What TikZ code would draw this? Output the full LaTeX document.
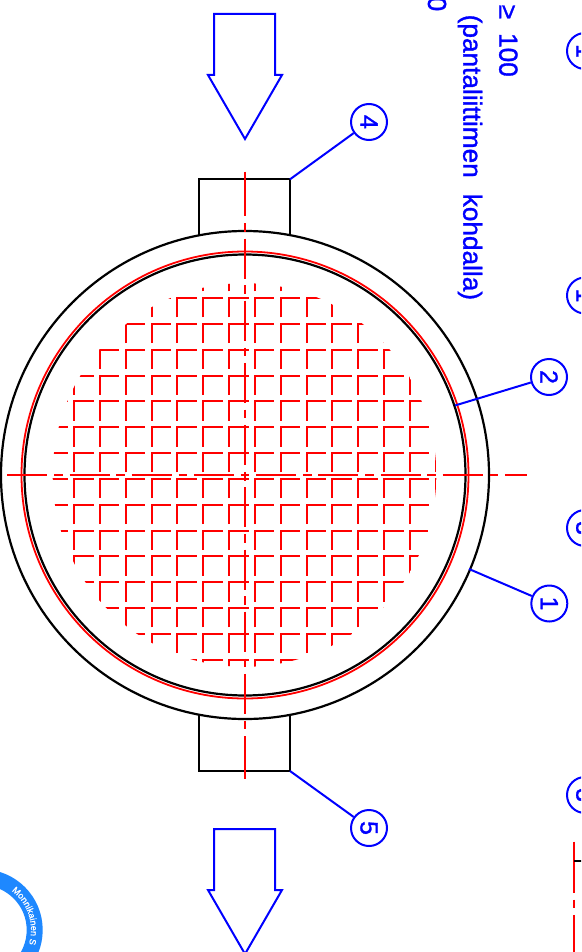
\documentclass[tikz,border=0pt]{standalone}
\usepackage{fontspec}
\setmainfont{Liberation Sans}[BoldFont=Liberation Sans,BoldFeatures={FakeBold=1.2}]
\usetikzlibrary{decorations.text}
\definecolor{stampblue}{HTML}{1E88FF}
\tikzset{
  blackline/.style={black,line width=2.2pt},
  redline/.style={red,line width=1.8pt},
  gridline/.style={red,line width=2pt},
  axisline/.style={red,line width=1.8pt,dash pattern=on 40pt off 6.8pt on 8.6pt off 6.8pt},
  blueline/.style={blue,line width=2pt},
  balloon/.style={circle,draw=blue,line width=2pt,minimum size=36pt,inner sep=0pt,text=blue,rotate=-90,font=\fontsize{25}{25}\selectfont\bfseries},
  bluetext/.style={text=blue,inner sep=0pt,rotate=-90,font=\fontsize{26.2}{26}\selectfont\bfseries},
}
\begin{document}
\begin{tikzpicture}[x=1pt,y=-1pt]
	\clip (0,0) rectangle (581,952);
	\fill[white] (0,0) rectangle (581,952);
	\begin{scope}%tube grid
		\clip (244.5,475) circle (191.8pt);
		\foreach \i in {-2,...,15} \foreach \j in {-1,...,15}
			\draw[gridline] ({74+25.84*\i},{317.3+25.84*\j}) -- ++(0,-19.3) -- ++(19.5,0);
	\end{scope}
	\draw[redline] (245,475) circle (223.5pt);%red circle
	\draw[blackline] (245,475) circle (220.5pt) (245,475) circle (244pt);%shell
	\draw[blackline] (199,235.4) -- (199,179.3) -- (290,179.3) -- (290,235.4);%top nozzle
	\draw[blackline] (199,714.6) -- (199,771) -- (290,771) -- (290,714.6);%bottom nozzle
	\draw[axisline] (7.3,475.3) -- (527,475.3);%centre lines
	\draw[axisline] (245,176.3) -- (245,774.3);
	\draw[redline] (245,171.7) -- (245,176.3) (245,774.3) -- (245,779.3);
	\foreach \yy in {14,829}%flow arrows
		\draw[blueline,yshift=-\yy pt] (214,0) -- (275,0) -- (275,61) -- (282,61) -- (245,125) -- (208,61) -- (214,61) -- cycle;
	\node[balloon] (c4) at (369,122) {4};
	\node[balloon] (c5) at (369,828) {5};
	\node[balloon] (c2) at (549,377) {2};
	\node[balloon] (c1) at (549.3,603.5) {1};
	\coordinate (p4) at (290,179.3);
	\coordinate (p5) at (290,771);
	\coordinate (p2) at (455,405.5);
	\coordinate (p1) at (469,569);
	\foreach \n in {1,2,4,5} \draw[blueline] (c\n) -- (p\n);
	\node[balloon] (c6) at (585,51) {1};%cut off at the edge
	\node[balloon] (c7) at (585,295.5) {1};
	\node[balloon] (c8) at (585,528) {3};
	\node[balloon] (c9) at (585,795) {3};
	\node[bluetext,anchor=base west] (t1) at (463.3,14.5) {(pantaliittimen\hspace{16pt}kohdalla)};
	\node[bluetext,anchor=base east] (t2) at (499.3,77) {≥\hspace{14pt}100};
	\node[bluetext,anchor=base east] (t3) at (428,11.5) {0};
	\draw[redline] (574,841.7) -- (574,852.7);%next view
	\draw[axisline] (574,852.7) -- (574,960);
	\draw[blackline] (574,860.7) -- (585,860.7);
	\draw[stampblue,line width=16pt] (-18,930) circle (52.7pt);%stamp
	\path[postaction={decorate},decoration={text along path,text color=white,text align=center,
		text={|\fontsize{9}{9}\selectfont\bfseries|Monnikainen S}}]
		(-18,930) ++(60:49pt) arc[start angle=60,end angle=-24,radius=49pt];
\end{tikzpicture}
\end{document}
